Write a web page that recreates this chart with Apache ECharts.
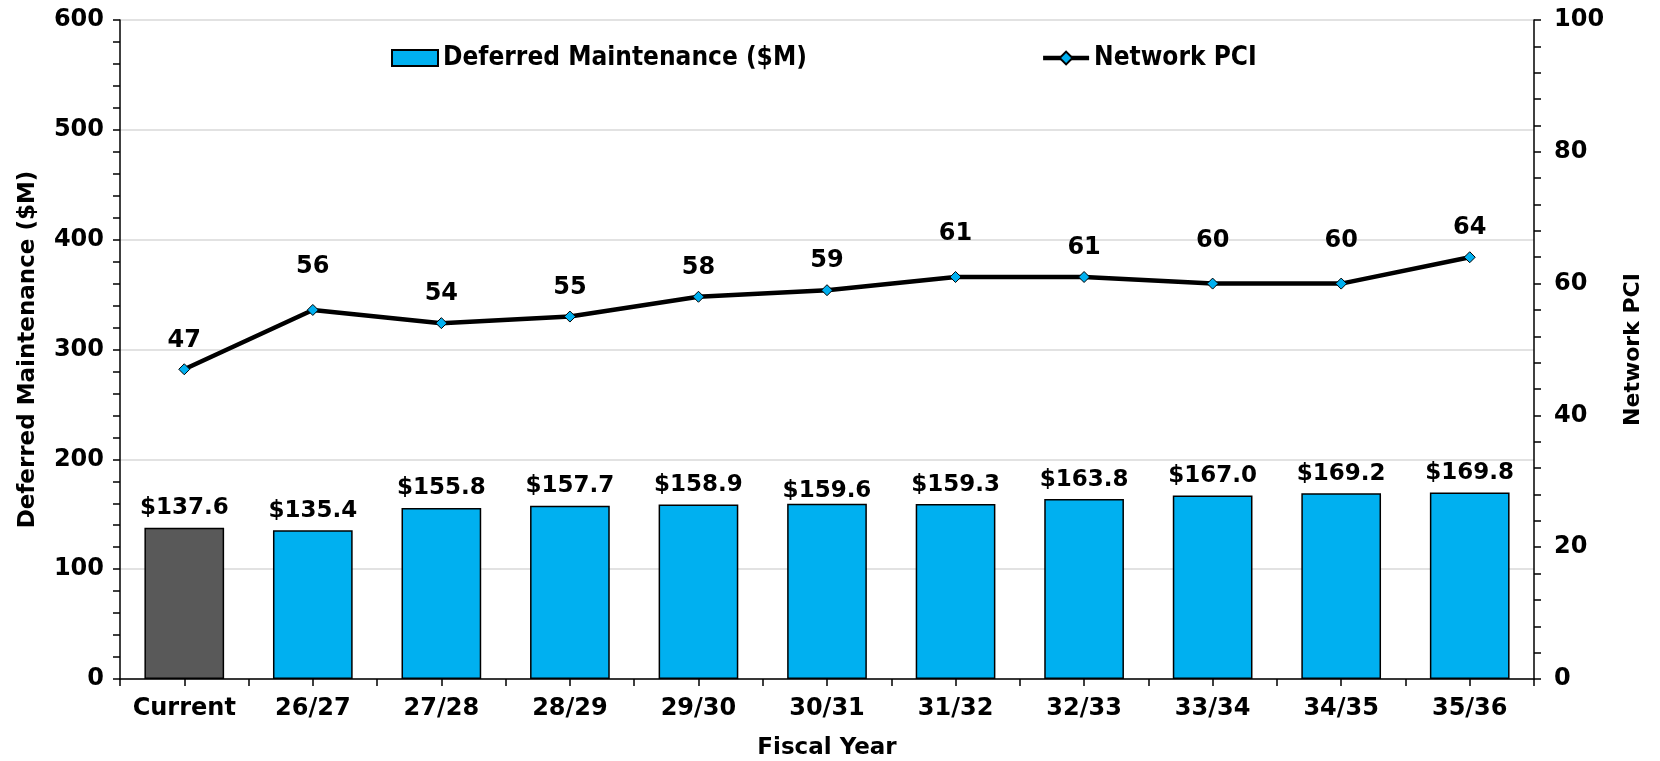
<!DOCTYPE html>
<html>
<head>
<meta charset="utf-8">
<script src="https://cdn.jsdelivr.net/npm/echarts@6/dist/echarts.min.js"></script>
<style>
  html, body { margin: 0; padding: 0; background: #fff; }
  #chart { width: 1660px; height: 761px; }
</style>
</head>
<body>
<div id="chart"></div>
<script>
var years = ["Current", "26/27", "27/28", "28/29", "29/30", "30/31", "31/32", "32/33", "33/34", "34/35", "35/36"];
var deferred = [137.6, 135.4, 155.8, 157.7, 158.9, 159.6, 159.3, 163.8, 167.0, 169.2, 169.8];
var pci = [47, 56, 54, 55, 58, 59, 61, 61, 60, 60, 64];

// labels that sit higher above their point in the original
var raisedLabels = [1, 6, 8, 9];

var fnt = "DejaVu Sans";
var myChart = echarts.init(document.getElementById('chart'));

// first bar (current) is grey, the rest blue
var barData = deferred.map(function (v, i) {
  var d = { value: v };
  if (i === 0) d.itemStyle = { color: '#595959' };
  if (i === 5) d.label = { distance: 1 };
  return d;
});
var lineData = pci.map(function (v, i) {
  return { value: v, label: { distance: raisedLabels.indexOf(i) >= 0 ? 25 : 11 } };
});

var option = {
  animation: false,
  textStyle: { fontFamily: fnt },
  grid: { left: 120, right: 126, top: 20, bottom: 82, outerBoundsMode: 'none', containLabel: false },
  legend: {
    left: 386,
    top: 40,
    itemGap: 234,
    itemWidth: 46,
    itemHeight: 16,
    textStyle: { fontFamily: "'DejaVu Sans Condensed', 'Liberation Sans', sans-serif", fontWeight: 'bold', fontSize: 26, color: '#000' },
    data: [
      { name: 'Deferred Maintenance ($M)', icon: 'rect' },
      { name: 'Network PCI', lineStyle: { width: 4.5 } }
    ]
  },
  xAxis: [
    {
      type: 'category',
      data: years,
      name: 'Fiscal Year',
      nameLocation: 'middle',
      nameGap: 58,
      nameTextStyle: { fontWeight: 'bold', fontSize: 23, color: '#000' },
      axisLine: { lineStyle: { color: '#000', width: 1.5 } },
      axisTick: { show: false },
      axisLabel: { interval: 0, fontWeight: 'bold', fontSize: 24, color: '#000', margin: 18 }
    },
    {
      // ticks only: category edges and centres
      type: 'value',
      position: 'bottom',
      min: 0, max: 11, interval: 0.5,
      axisLine: { show: false },
      axisTick: { show: true, length: 7, lineStyle: { color: '#000', width: 1.5 } },
      axisLabel: { show: false },
      splitLine: { show: false }
    }
  ],
  yAxis: [
    {
      type: 'value',
      min: 0, max: 600, interval: 100,
      name: 'Deferred Maintenance ($M)',
      nameLocation: 'middle',
      nameGap: 80,
      nameTextStyle: { fontWeight: 'bold', fontSize: 23, color: '#000' },
      axisLine: { show: true, lineStyle: { color: '#000', width: 1.5 } },
      axisTick: { show: true, length: 7, lineStyle: { color: '#000', width: 1.5 } },
      minorTick: { show: true, splitNumber: 5, length: 7, lineStyle: { color: '#000', width: 1.5 } },
      axisLabel: { fontWeight: 'bold', fontSize: 24, color: '#000', margin: 16 },
      splitLine: { show: true, lineStyle: { color: '#d9d9d9', width: 1.5 } }
    },
    {
      type: 'value',
      min: 0, max: 100, interval: 20,
      name: 'Network PCI',
      nameLocation: 'middle',
      nameGap: 88,
      nameRotate: 90,
      nameTextStyle: { fontWeight: 'bold', fontSize: 22, color: '#000' },
      axisLine: { show: true, lineStyle: { color: '#000', width: 1.5 } },
      axisTick: { show: true, length: 7, lineStyle: { color: '#000', width: 1.5 } },
      minorTick: { show: true, splitNumber: 5, length: 7, lineStyle: { color: '#000', width: 1.5 } },
      axisLabel: { fontWeight: 'bold', fontSize: 24, color: '#000', margin: 20 },
      splitLine: { show: false }
    }
  ],
  series: [
    {
      name: 'Deferred Maintenance ($M)',
      type: 'bar',
      barWidth: '62%',
      data: barData,
      itemStyle: { color: '#00B0F0', borderColor: '#000', borderWidth: 1.5 },
      label: {
        show: true,
        position: 'top',
        distance: 8,
        fontWeight: 'bold',
        fontSize: 23,
        color: '#000',
        formatter: function (p) { return '$' + p.value.toFixed(1); }
      }
    },
    {
      name: 'Network PCI',
      type: 'line',
      yAxisIndex: 1,
      data: lineData,
      symbol: 'diamond',
      symbolSize: 11,
      lineStyle: { color: '#000', width: 4.5 },
      itemStyle: { color: '#00B0F0', borderColor: '#000', borderWidth: 1 },
      label: {
        show: true,
        position: 'top',
        fontWeight: 'bold',
        fontSize: 24,
        color: '#000'
      }
    }
  ]
};
myChart.setOption(option);
</script>
</body>
</html>
